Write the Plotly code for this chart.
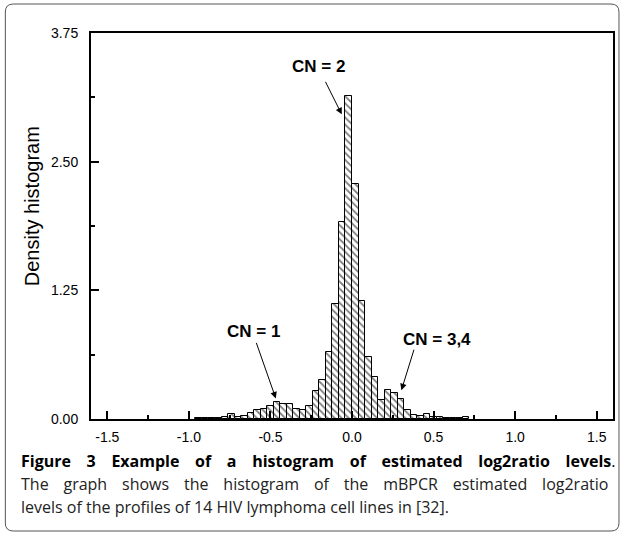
import plotly.graph_objects as go

# ---- data ----
bin_width = 0.04
bin_first_left = -0.96
density = [0.010, 0.010, 0.012, 0.012, 0.015, 0.045, 0.015, 0.030, 0.060, 0.087,
           0.100, 0.126, 0.170, 0.150, 0.145, 0.100, 0.087, 0.126, 0.270, 0.380,
           0.650, 1.120, 1.910, 3.140, 2.280, 1.150, 0.600, 0.410, 0.180, 0.280,
           0.250, 0.190, 0.090, 0.040, 0.030, 0.050, 0.020, 0.016, 0.012, 0.012,
           0.010, 0.020]
bin_centers = [round(bin_first_left + bin_width * (i + 0.5), 4) for i in range(len(density))]

x_tickvals = [-1.5, -1.0, -0.5, 0.0, 0.5, 1.0, 1.5]
x_ticktext = ["-1.5", "-1.0", "-0.5", "0.0", "0.5", "1.0", "1.5"]
y_tickvals = [0.0, 1.25, 2.5, 3.75]
y_ticktext = ["0.00", "1.25", "2.50", "3.75"]

W, H = 627, 536
L, R, T, B = 91, 12, 33, 117
PW, PH = W - L - R, H - T - B


def px(xp):
    return (xp - L) / PW


def py(yp):
    return (H - B - yp) / PH


fig = go.Figure()
fig.add_trace(go.Bar(
    x=bin_centers, y=density, width=bin_width,
    marker=dict(color="white", line=dict(color="black", width=1),
                pattern=dict(shape="\\", fgcolor="black", bgcolor="white",
                             size=5, solidity=0.35)),
    showlegend=False, hoverinfo="x+y"))

axis_font = dict(family="Liberation Sans, Arial, sans-serif", size=14, color="black")

fig.update_xaxes(range=[-1.6, 1.6], tickvals=x_tickvals, ticktext=x_ticktext,
                 ticks="inside", ticklen=8, tickwidth=1.5, tickcolor="black",
                 minor=dict(dtick=0.25, tick0=0, ticks="inside", ticklen=4,
                            tickwidth=1.5, tickcolor="black"),
                 showline=True, linecolor="black", linewidth=2, mirror=True,
                 showgrid=False, zeroline=False, tickfont=axis_font,
                 ticklabelstandoff=4)
fig.update_yaxes(range=[0, 3.75], tickvals=y_tickvals, ticktext=y_ticktext,
                 ticks="inside", ticklen=8, tickwidth=1.5, tickcolor="black",
                 minor=dict(dtick=0.625, tick0=0, ticks="inside", ticklen=4,
                            tickwidth=1.5, tickcolor="black"),
                 showline=True, linecolor="black", linewidth=2, mirror=True,
                 showgrid=False, zeroline=False, tickfont=axis_font,
                 ticklabelstandoff=8)

# y-axis title
fig.add_annotation(xref="paper", yref="paper", x=px(32), y=py(206), text="Density histogram",
                   textangle=-90, showarrow=False, xanchor="center", yanchor="middle",
                   font=dict(family="Liberation Sans, Arial, sans-serif", size=20, color="black"))

ann_font = dict(family="Liberation Sans, Arial, sans-serif", size=17, color="black")
labels = [
    ("<b>CN = 2</b>", -0.208, 3.42),
    ("<b>CN = 1</b>", -0.605, 0.85),
    ("<b>CN = 3,4</b>", 0.519, 0.77),
]
for txt, x, y in labels:
    fig.add_annotation(x=x, y=y, xref="x", yref="y", text=txt, showarrow=False,
                       font=ann_font, xanchor="center", yanchor="middle")

arrows = [(-0.063, 2.96, -17, -34), (-0.467, 0.20, -20, -57), (0.303, 0.28, 13, -42)]
for x, y, ax, ay in arrows:
    fig.add_annotation(x=x, y=y, xref="x", yref="y", text="", showarrow=True,
                       ax=ax, ay=ay, arrowhead=2, arrowsize=1.3, arrowwidth=1,
                       arrowcolor="black", standoff=0)

cap_font = dict(family="Open Sans, sans-serif", size=16, color="black")
fig.add_annotation(xref="paper", yref="paper", x=px(19), y=py(461), xanchor="left",
                   yanchor="middle", showarrow=False, font=cap_font,
                   text='<span style="word-spacing:11.5px"><b>Figure 3 Example of a histogram '
                        'of estimated log2ratio levels</b>.</span>')
cap_font2 = dict(family="Open Sans, sans-serif", size=16, color="#222222")
fig.add_annotation(xref="paper", yref="paper", x=px(19), y=py(484), xanchor="left",
                   yanchor="middle", showarrow=False, font=cap_font2,
                   text='<span style="word-spacing:10.7px">The graph shows the histogram of '
                        'the mBPCR estimated log2ratio</span>')
fig.add_annotation(xref="paper", yref="paper", x=px(19), y=py(507), xanchor="left",
                   yanchor="middle", showarrow=False, font=cap_font2,
                   text="levels of the profiles of 14 HIV lymphoma cell lines in [32].")

# rounded outer frame
x0, y0, x1, y1, r = 5, 4, 621, 531, 8
path = (f"M {px(x0 + r)},{py(y0)} L {px(x1 - r)},{py(y0)} "
        f"Q {px(x1)},{py(y0)} {px(x1)},{py(y0 + r)} "
        f"L {px(x1)},{py(y1 - r)} Q {px(x1)},{py(y1)} {px(x1 - r)},{py(y1)} "
        f"L {px(x0 + r)},{py(y1)} Q {px(x0)},{py(y1)} {px(x0)},{py(y1 - r)} "
        f"L {px(x0)},{py(y0 + r)} Q {px(x0)},{py(y0)} {px(x0 + r)},{py(y0)} Z")
fig.add_shape(type="path", xref="paper", yref="paper", path=path,
              line=dict(color="#555555", width=1))

fig.update_layout(width=W, height=H, margin=dict(l=L, r=R, t=T, b=B),
                  paper_bgcolor="white", plot_bgcolor="white", bargap=0)

fig.write_html("out.html")
